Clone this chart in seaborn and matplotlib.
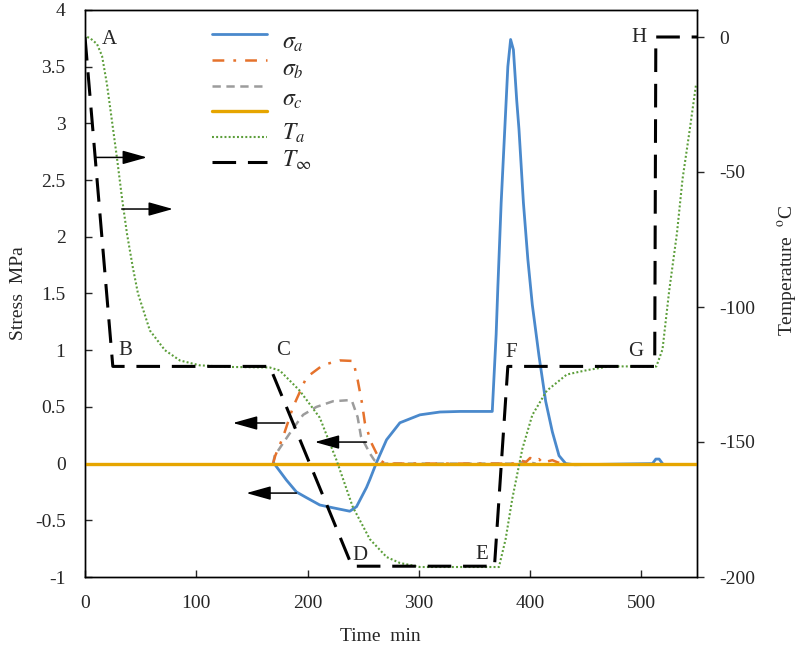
import numpy as np
import pandas as pd
import matplotlib
matplotlib.use("Agg")
import matplotlib.pyplot as plt
from matplotlib.ticker import MultipleLocator, FuncFormatter
from matplotlib.lines import Line2D
import seaborn as sns

# ---------------------------------------------------------------------------
# Data
# ---------------------------------------------------------------------------
# stress sigma_a (blue, solid) - zero before 170 min is hidden by sigma_c
t_sa = [170, 181, 190, 199, 211, 223, 238, 244, 253, 256, 262, 271, 283,
        301, 319, 337, 366, 369.5, 371, 374, 377, 380, 382.5, 385, 388, 390,
        394, 398, 402, 408, 414, 420, 426, 432, 440, 510, 513, 516, 519]
s_sa = [0, -0.145, -0.25, -0.30, -0.365, -0.39, -0.42, -0.38, -0.21, -0.14,
        0.01, 0.21, 0.36, 0.43, 0.455, 0.46, 0.46, 1.14, 1.55, 2.3, 2.9, 3.5,
        3.74, 3.65, 3.2, 2.95, 2.3, 1.8, 1.4, 0.95, 0.55, 0.28, 0.07, 0.0,
        -0.01, 0, 0.04, 0.04, 0]

# stress sigma_b (orange, dash-dot)
t_sb = [169, 171, 178, 187, 199, 214, 229, 241, 245, 249, 251.5, 257.5,
        265, 270, 388, 392, 396, 400, 404, 408, 412, 416, 420, 425, 430]
s_sb = [0, 0.07, 0.235, 0.5, 0.76, 0.87, 0.91, 0.905, 0.74, 0.53, 0.36,
        0.18, 0.03, 0, 0, 0.03, 0.01, 0.05, 0.02, 0.04, 0.0, 0.02, 0.03, 0.01,
        0]

# unlabelled stress series (grey, dashed)
t_sg = [169, 170.5, 178, 187, 196, 208, 223, 238, 240, 245, 248, 256, 260,
        265, 390, 395, 400, 405]
s_sg = [0, 0.07, 0.18, 0.31, 0.43, 0.50, 0.55, 0.56, 0.55, 0.41, 0.24,
        0.09, 0.03, 0, 0, 0.02, 0.01, 0]

# stress sigma_c (gold, solid)
t_sc = [0, 550]
s_sc = [0, 0]

# temperature T_a (green, dotted)
t_ta = [2, 4.5, 10.8, 15.3, 19.7, 24.2, 28.7, 33.2, 37.7, 43, 47.6, 58.3,
        71.8, 85.3, 103, 130, 166, 175, 193, 211, 226, 240.6, 256, 271, 283,
        301, 346, 372, 378, 384, 393, 402, 415, 433, 451, 471, 492, 513.5,
        519, 525, 532, 537, 543, 549]
T_ta = [0, -0.4, -2.6, -7, -17.4, -31, -44.7, -59.5, -72.8, -85.4, -95,
        -108.7, -116, -119.8, -121.6, -122.2, -122.4, -123.5, -131, -141,
        -156.7, -174, -186, -192.6, -194.8, -196.3, -196.3, -196.3, -186, -171,
        -152.6, -140, -131, -125, -123.4, -122, -122, -122, -115.7, -94,
        -72.6, -52.6, -35.7, -18]

# ambient temperature T_inf (black, long dash)
t_ti = [0, 25, 166, 240, 368, 380, 512, 513, 550]
T_ti = [0, -122, -122, -196, -196, -122, -122, 0, 0]

# point letters (time, stress)
letters = ["A", "B", "C", "D", "E", "F", "G", "H"]
letter_t = [22, 36, 178, 247, 357, 383, 495, 498]
letter_s = [3.74, 1.0, 1.0, -0.81, -0.80, 0.98, 0.99, 3.76]

# arrows pointing to the axis each curve belongs to: (tail t, head t, stress)
arrow_tail = [9, 33, 179.5, 253, 190]
arrow_head = [55.7, 79, 132.9, 206.5, 145]
arrow_s = [2.70, 2.245, 0.358, 0.19, -0.26]

legend_labels = [r"$\sigma_a$", r"$\sigma_b$", r"$\sigma_c$", r"$T_a$", r"$T_\infty$"]

# ---------------------------------------------------------------------------
# Style
# ---------------------------------------------------------------------------
sns.set_style("ticks")
plt.rcParams["font.family"] = ["Liberation Serif", "DejaVu Serif"]
plt.rcParams["mathtext.fontset"] = "stix"
plt.rcParams["axes.unicode_minus"] = False
plt.rcParams["lines.scale_dashes"] = False

fig, ax = plt.subplots(figsize=(8, 6.51), dpi=100)
fig.subplots_adjust(left=85 / 800, right=697 / 800,
                    bottom=1 - 577 / 651, top=1 - 10 / 651)
ax2 = ax.twinx()


def draw(axis, t, y, color, lw, dashes=None, z=2):
    df = pd.DataFrame({"t": t, "y": y})
    sns.lineplot(data=df, x="t", y="y", ax=axis, color=color, linewidth=lw,
                 estimator=None, sort=False, zorder=z)
    line = axis.lines[-1]
    if dashes is not None:
        line.set_dashes(dashes)
    return line


c_blue, c_orange, c_grey = "#4A89CC", "#E5722C", "#9C9C9C"
c_gold, c_green = "#E6A500", "#5C9E3A"

dash_b, dash_g, dash_ta, dash_ti = (8.5, 6.5, 2, 6.5), (6, 4), (1.4, 1.6), (17, 8.5)

l_g = draw(ax, t_sg, s_sg, c_grey, 1.8, dashes=dash_g, z=2)
l_b = draw(ax, t_sb, s_sb, c_orange, 1.8, dashes=dash_b, z=3)
l_a = draw(ax, t_sa, s_sa, c_blue, 2.0, z=4)
l_c = draw(ax, t_sc, s_sc, c_gold, 2.4, z=5)

l_ta = draw(ax2, t_ta, T_ta, c_green, 1.5, dashes=dash_ta, z=2)
l_ti = draw(ax2, t_ti, T_ti, "black", 2.2, dashes=dash_ti, z=3)

# axes limits and ticks
ax.set_xlim(0, 550)
ax.set_ylim(-1, 4)
ax2.set_ylim(-200, 10)
ax.xaxis.set_major_locator(MultipleLocator(100))
ax.yaxis.set_major_locator(MultipleLocator(0.5))
ax2.yaxis.set_major_locator(MultipleLocator(50))
ax.yaxis.set_major_formatter(FuncFormatter(lambda v, p: f"{v:g}"))
ax2.yaxis.set_major_formatter(FuncFormatter(lambda v, p: f"{v:g}"))

ax.tick_params(axis="both", direction="in", length=5, width=1,
               labelsize=14, top=False, right=False)
ax.tick_params(axis="y", pad=14)
ax.tick_params(axis="x", pad=13)
ax2.tick_params(axis="y", direction="out", length=5, width=1,
                labelsize=14, pad=11)

for axis in (ax, ax2):
    for sp in axis.spines.values():
        sp.set_visible(True)
        sp.set_color("black")
        sp.set_linewidth(1.0)

ax.set_xlabel("Time  min", fontsize=14)
ax.set_ylabel("Stress  MPa", fontsize=14)
ax2.set_ylabel(r"Temperature  $^{\mathrm{o}}$C", fontsize=14)
ax.xaxis.set_label_coords(0.482, -0.09)
ax.yaxis.set_label_coords(-0.095, 0.5)
ax2.yaxis.set_label_coords(1.13, 0.54)

# letters marking the stages of the ambient temperature
for s, tx, sy in zip(letters, letter_t, letter_s):
    ax2.text(tx, sy, s, transform=ax.transData, fontsize=15,
             ha="center", va="center", zorder=6)

# arrows
for t0, t1, sy in zip(arrow_tail, arrow_head, arrow_s):
    ax2.annotate("", xy=(t1, sy), xytext=(t0, sy),
                 xycoords=ax.transData, textcoords=ax.transData,
                 arrowprops=dict(arrowstyle="-|>,head_length=1.5,head_width=0.42",
                                 mutation_scale=10, color="black", lw=1.1,
                                 shrinkA=0, shrinkB=0))

# legend: six line samples, five labels placed as in the original
styles = [(l_a, None), (l_b, dash_b), (l_g, dash_g),
          (l_c, None), (l_ta, dash_ta), (l_ti, dash_ti)]
handles = []
for line, d in styles:
    h = Line2D([], [], color=line.get_color(), lw=line.get_linewidth())
    if d is not None:
        h.set_dashes(d)
    handles.append(h)
ax2.legend(handles, [" "] * 6, loc="upper left",
           bbox_to_anchor=((212 - 85) / 612, (577 - 28) / 567),
           frameon=False, fontsize=12, handlelength=3.3,
           labelspacing=0.58, borderpad=0, borderaxespad=0,
           handletextpad=0.2)

label_y = [43, 70, 100, 133, 160]
for lab, py in zip(legend_labels, label_y):
    ax2.text((282 - 85) / 612, (577 - py) / 567, lab, transform=ax.transAxes,
             fontsize=17, ha="left", va="center")

plt.savefig("out.png", dpi=100)
plt.close()
